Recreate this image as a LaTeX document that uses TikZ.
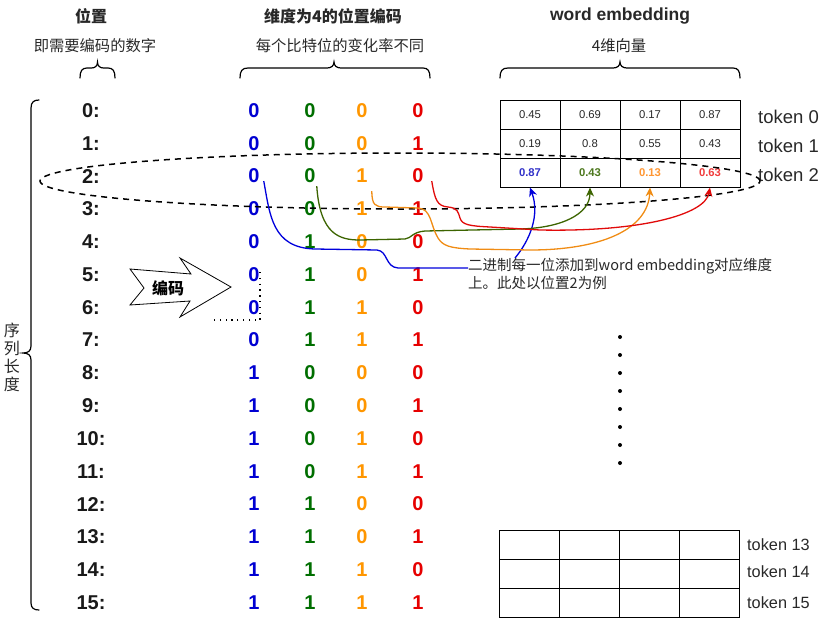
\documentclass[tikz,border=0pt]{standalone}
\usepackage{fontspec}
\setmainfont{Liberation Sans}
\newfontfamily\cjk{Noto Sans CJK SC}
\usetikzlibrary{arrows.meta,shapes.geometric}
\definecolor{bblue}{RGB}{0,0,210}
\definecolor{bgreen}{RGB}{0,110,0}
\definecolor{borange}{RGB}{255,150,0}
\definecolor{bred}{RGB}{230,0,0}
\definecolor{cblue}{RGB}{0,0,220}
\definecolor{cgreen}{RGB}{60,100,0}
\definecolor{corange}{RGB}{240,140,20}
\definecolor{cred}{RGB}{225,10,10}
\definecolor{vblue}{RGB}{50,50,200}
\definecolor{vgreen}{RGB}{77,120,30}
\definecolor{vorange}{RGB}{255,150,50}
\definecolor{vred}{RGB}{240,60,60}
\definecolor{txt}{RGB}{40,40,40}
\begin{document}
\begin{tikzpicture}[x=1pt,y=-1pt,
  title/.style={font=\cjk\bfseries\fontsize{16}{19}\selectfont, text=txt, inner sep=0},
  sub/.style={font=\cjk\fontsize{15.3}{18}\selectfont, text=txt, inner sep=0},
  rowlab/.style={font=\bfseries\fontsize{20}{24}\selectfont, text=black!90, inner sep=0},
  bit/.style={font=\bfseries\fontsize{20}{24}\selectfont, inner sep=0},
  cell/.style={draw, line width=1pt, minimum width=60pt, minimum height=29pt, inner sep=0, font=\fontsize{11.3}{13}\selectfont, text=txt},
  vcell/.style={cell, font=\bfseries\fontsize{11.3}{13}\selectfont},
  tok/.style={font=\fontsize{18.5}{21}\selectfont, text=txt, anchor=west, inner sep=0},
  tokb/.style={font=\fontsize{16.3}{19}\selectfont, text=txt, anchor=west, inner sep=0},
  brace/.style={line width=1.2pt, line cap=round},
  link/.style={line width=1.3pt},
  tip/.style={-{Stealth[length=9pt,width=8pt]}}
]
\useasboundingbox (0,0) rectangle (825,624);

% titles
\node[title] (t1) at (91,16) {位置};
\node[sub] (s1) at (95,46) {即需要编码的数字};
\node[title] (t2) at (333,16) {维度为4的位置编码};
\node[sub] (s2) at (340,46) {每个比特位的变化率不同};
\node[font=\bfseries\fontsize{17.5}{20}\selectfont, text=txt, inner sep=0] (t3) at (620,16) {word embedding};
\node[sub] (s3) at (619,46) {4维向量};

% top braces
\draw[brace] (80,78) .. controls (80,71) and (82,68) .. (87,68) -- (91.5,68) .. controls (95,68) and (97.5,66) .. (97.5,62) .. controls (97.5,66) and (100,68) .. (103.5,68) -- (108,68) .. controls (113,68) and (115,71) .. (115,78);
\draw[brace] (240,78) .. controls (240,71) and (242,68) .. (248,68) -- (327,68) .. controls (331,68) and (334,66) .. (334,62) .. controls (334,66) and (337,68) .. (341,68) -- (423,68) .. controls (428,68) and (430,71) .. (430,78);
\draw[brace] (500,78) .. controls (500,71) and (502,68) .. (508,68) -- (613,68) .. controls (617,68) and (620,66) .. (620,62) .. controls (620,66) and (623,68) .. (627,68) -- (733,68) .. controls (738,68) and (740,71) .. (740,78);

% left brace
\draw[brace] (39,100) .. controls (34,100) and (31,102) .. (31,108) -- (31,346) .. controls (31,351) and (28,353) .. (23,353) .. controls (28,353) and (31,355) .. (31,360) -- (31,603) .. controls (31,608) and (34,610) .. (39,610);
\node[font=\cjk\fontsize{16}{18}\selectfont, text=txt, align=center, inner sep=0] (seq) at (12,357) {序\\列\\长\\度};

% rows and bits
\foreach \i in {0,...,15}{
  \pgfmathsetmacro\yy{110.5+32.8*\i}
  \pgfmathtruncatemacro\ba{floor(\i/8)}
  \pgfmathtruncatemacro\bb{mod(floor(\i/4),2)}
  \pgfmathtruncatemacro\bc{mod(floor(\i/2),2)}
  \pgfmathtruncatemacro\bd{mod(\i,2)}
  \node[rowlab] (r\i) at (91,\yy) {\i:};
  \node[bit,text=bblue] (b\i-0) at (254,\yy) {\ba};
  \node[bit,text=bgreen] (b\i-1) at (310,\yy) {\bb};
  \node[bit,text=borange] (b\i-2) at (362,\yy) {\bc};
  \node[bit,text=bred] (b\i-3) at (418,\yy) {\bd};
}

% top table
\node[cell] (c0-0) at (530,114.5) {0.45};
\node[cell] (c0-1) at (590,114.5) {0.69};
\node[cell] (c0-2) at (650,114.5) {0.17};
\node[cell] (c0-3) at (710,114.5) {0.87};
\node[cell] (c1-0) at (530,143.5) {0.19};
\node[cell] (c1-1) at (590,143.5) {0.8};
\node[cell] (c1-2) at (650,143.5) {0.55};
\node[cell] (c1-3) at (710,143.5) {0.43};
\node[vcell,text=vblue] (c2-0) at (530,172.5) {0.87};
\node[vcell,text=vgreen] (c2-1) at (590,172.5) {0.43};
\node[vcell,text=vorange] (c2-2) at (650,172.5) {0.13};
\node[vcell,text=vred] (c2-3) at (710,172.5) {0.63};
\node[tok] (k0) at (758,117) {token 0};
\node[tok] (k1) at (758,146) {token 1};
\node[tok] (k2) at (758,175) {token 2};

% bottom table
\foreach \r/\yy in {13/544.5,14/573.5,15/602.5}{
  \foreach \c/\xx in {0/529,1/589,2/649,3/709}{
    \node[cell] (d\r-\c) at (\xx,\yy) {};
  }
}
\node[tokb] (k13) at (747,545) {token 13};
\node[tokb] (k14) at (747,572) {token 14};
\node[tokb] (k15) at (747,603) {token 15};

% vertical dots
\foreach \k in {0,...,7}{
  \fill[black] (620,337+18*\k) circle[radius=2pt];
}

% encode arrow
\draw[line width=0.8pt, fill=white] (130,269) -- (191,274) -- (180,258) -- (231,287) -- (180,317) -- (190,301) -- (130,305) -- (144,288) -- cycle;
\node[font=\cjk\bfseries\fontsize{16}{19}\selectfont, inner sep=0] (enc) at (168,288) {编码};

% dotted lines
\draw[line width=1.3pt, dash pattern=on 1.3pt off 4.5pt] (260,272) -- (260,320) -- (210,320);

% dashed ellipse
\node[draw, dashed, ellipse, line width=1.5pt, dash pattern=on 6pt off 5pt, minimum width=720pt, minimum height=56pt, inner sep=0] (sel) at (400,181) {};

% note
\node[anchor=west, align=left, font=\cjk\fontsize{14.5}{18}\selectfont, text=txt, inner sep=0] (note) at (468,274) {二进制每一位添加到word embedding对应维度\\上。此处以位置2为例};

% connectors
\draw[link, cblue] ([xshift=4pt,yshift=-5pt]b2-0.east) .. controls (270,215) and (272,248) .. (315,249) -- (377,250) .. controls (388,251) and (385,267) .. (398,268) -- ([yshift=6pt]note.west);
\draw[link, cblue, tip] ([xshift=47pt]note.north west) .. controls (530,240) and (540,215) .. (c2-0.south);
\draw[link, cgreen, tip] ([xshift=1pt,yshift=-10pt]b2-1.east) .. controls (320,235) and (340,240) .. (360,240) -- (405,239) .. controls (412,238) and (412,232) .. (425,231) -- (520,229) .. controls (560,228) and (590,215) .. (c2-1.south);
\draw[link, corange, tip] ([xshift=4pt,yshift=-15pt]b2-2.east) .. controls (372,205) and (375,207) .. (385,207) -- (418,208) .. controls (432,209) and (430,225) .. (438,238) .. controls (443,246) and (450,248) .. (470,249) -- (530,250) .. controls (600,250) and (648,230) .. (c2-2.south);
\draw[link, cred, tip] ([xshift=8pt,yshift=-5pt]b2-3.east) .. controls (435,200) and (437,206) .. (448,207) .. controls (458,208) and (458,212) .. (460,218) .. controls (462,225) and (470,226) .. (490,227) -- (540,230) .. controls (640,232) and (705,215) .. (c2-3.south);

\end{tikzpicture}
\end{document}
